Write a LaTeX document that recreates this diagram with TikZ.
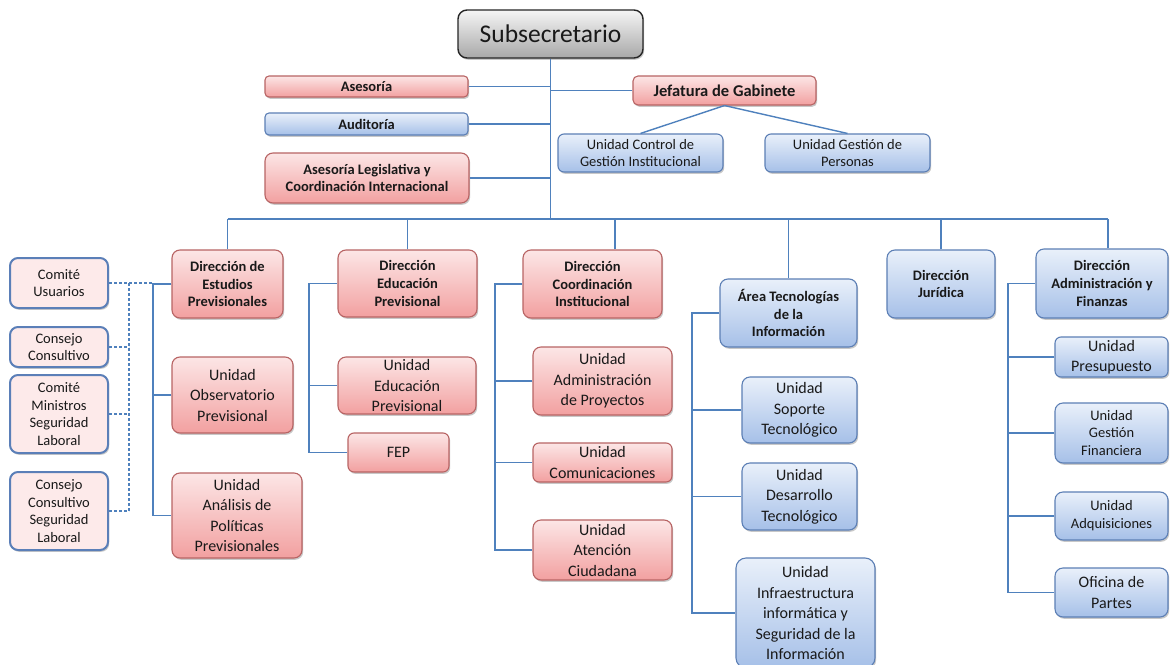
\documentclass[tikz,border=0pt]{standalone}
\usepackage{fontspec}
\setmainfont{Carlito}
\usetikzlibrary{shadows}
\definecolor{lnc}{HTML}{4F81BD}
\definecolor{redtop}{HTML}{FCE6E6}
\definecolor{redbot}{HTML}{F2A0A0}
\definecolor{redbd}{HTML}{B86464}
\definecolor{bluetop}{HTML}{E9F0FA}
\definecolor{bluebot}{HTML}{A6C0E8}
\definecolor{bluebd}{HTML}{5C7FB5}
\definecolor{comfill}{HTML}{FDEAEA}
\definecolor{combd}{HTML}{5B7FB8}
\definecolor{graytop}{HTML}{F5F5F5}
\definecolor{graybot}{HTML}{A8A8A8}
\tikzset{
  bx/.style={rounded corners=8pt, align=center, inner sep=0pt, line width=1.1pt, text=black!90,
    drop shadow={shadow xshift=1.2pt, shadow yshift=-1.8pt, opacity=0.3, fill=black!70}},
  redbox/.style={bx, draw=redbd, top color=redtop, bottom color=redbot},
  bluebox/.style={bx, draw=bluebd, top color=bluetop, bottom color=bluebot},
  combox/.style={bx, draw=combd, fill=comfill, line width=2pt},
  graybox/.style={bx, draw=black!85, top color=graytop, bottom color=graybot, line width=1.4pt, rounded corners=9pt},
  bold/.style={font=\bfseries\fontsize{14.5}{17.7}\selectfont},
  reg/.style={font=\fontsize{16}{20.5}\selectfont},
  small/.style={font=\fontsize{14.5}{17.8}\selectfont},
  conn/.style={draw=lnc, line width=1.4pt},
  dsh/.style={conn, dash pattern=on 3pt off 2pt},
  sz/.style 2 args={minimum width=#1pt, minimum height=#2pt}
}
\begin{document}
\begin{tikzpicture}[x=1pt,y=-1pt]
\useasboundingbox (0,0) rectangle (1170,664);
\fill[white] (0,0) rectangle (1170,664);

% top level
\node[graybox, sz={185}{48}, font=\fontsize{25.5}{29}\selectfont] (sub) at (550.5,34) {Subsecretario};
\node[redbox, bold, sz={203}{21}, rounded corners=4pt] (ases) at (366.5,86.5) {Asesoría};
\node[bluebox, bold, sz={203}{22}, rounded corners=4pt] (audit) at (366.5,124) {Auditoría};
\node[redbox, bold, sz={204}{50}] (aleg) at (367,178) {Asesoría Legislativa y\\Coordinación Internacional};
\node[redbox, sz={183}{29}, rounded corners=5pt, font=\bfseries\fontsize{16.5}{20}\selectfont] (jef) at (724.5,90.5) {Jefatura de Gabinete};
\node[bluebox, small, sz={165}{38}, rounded corners=6pt] (ucg) at (640.5,153) {Unidad Control de\\Gestión Institucional};
\node[bluebox, small, sz={165}{38}, rounded corners=6pt] (ugp) at (847.5,153) {Unidad Gestión de\\Personas};

% column 1
\node[redbox, bold, sz={111}{68}] (dep) at (227.5,284) {Dirección de\\Estudios\\Previsionales};
\node[redbox, reg, sz={121}{76}] (uop) at (232.5,395) {Unidad\\Observatorio\\Previsional};
\node[redbox, reg, sz={130}{85}] (uap) at (237,515.5) {Unidad\\Análisis de\\Políticas\\Previsionales};

% committees
\node[combox, small, sz={98}{50}] (cu) at (59,283) {Comité\\Usuarios};
\node[combox, small, sz={98}{40}] (cc) at (59,347) {Consejo\\Consultivo};
\node[combox, small, sz={98}{78}] (cmsl) at (59,414) {Comité\\Ministros\\Seguridad\\Laboral};
\node[combox, small, sz={98}{78}] (ccsl) at (59,511) {Consejo\\Consultivo\\Seguridad\\Laboral};

% column 2
\node[redbox, bold, sz={139}{67}] (dedu) at (407.5,283.5) {Dirección\\Educación\\Previsional};
\node[redbox, reg, sz={138}{57}] (uedu) at (407,385.5) {Unidad\\Educación\\Previsional};
\node[redbox, reg, sz={101}{39}, rounded corners=6pt] (fep) at (398.5,452.5) {FEP};

% column 3
\node[redbox, bold, sz={139}{68}] (dci) at (592.5,284) {Dirección\\Coordinación\\Institucional};
\node[redbox, reg, sz={139}{68}] (uadp) at (602.5,381) {Unidad\\Administración\\de Proyectos};
\node[redbox, reg, sz={139}{39}, rounded corners=6pt] (ucom) at (602.5,462.5) {Unidad\\Comunicaciones};
\node[redbox, reg, sz={139}{60}] (uaci) at (602.5,550) {Unidad\\Atención\\Ciudadana};

% column 4
\node[bluebox, bold, sz={137}{68}] (ati) at (788.5,313) {Área Tecnologías\\de la\\Información};
\node[bluebox, reg, sz={115}{66}] (ust) at (799.5,410) {Unidad\\Soporte\\Tecnológico};
\node[bluebox, reg, sz={115}{67}] (udt) at (799.5,496.5) {Unidad\\Desarrollo\\Tecnológico};
\node[bluebox, reg, sz={139}{110}, rounded corners=10pt] (uisi) at (805.5,613) {Unidad\\Infraestructura\\informática y\\Seguridad de la\\Información};

% column 5
\node[bluebox, bold, sz={108}{68}] (djur) at (941,284) {Dirección\\Jurídica};

% column 6
\node[bluebox, bold, sz={132}{69}] (dadm) at (1102,283.5) {Dirección\\Administración y\\Finanzas};
\node[bluebox, reg, sz={113}{40}, rounded corners=6pt] (upre) at (1111.5,357) {Unidad\\Presupuesto};
\node[bluebox, small, sz={113}{60}] (ugf) at (1111.5,433) {Unidad\\Gestión\\Financiera};
\node[bluebox, small, sz={113}{48}] (uadq) at (1111.5,516) {Unidad\\Adquisiciones};
\node[bluebox, reg, sz={113}{49}] (opar) at (1111.5,592.5) {Oficina de\\Partes};

% coordinates
\coordinate (busL) at (227.5,219);
\coordinate (busR) at (1108,219);
\coordinate (sp1) at (153,0);
\coordinate (spd) at (129,0);
\coordinate (sp2) at (309,0);
\coordinate (sp3) at (495,0);
\coordinate (sp4) at (692,0);
\coordinate (sp6) at (1008,0);

% connectors top
\draw[conn] (sub.south) -- (sub.south |- busL);
\draw[conn] (ases.east) -- (ases.east -| sub.south);
\draw[conn] (audit.east) -- (audit.east -| sub.south);
\draw[conn] (aleg.east) -- (aleg.east -| sub.south);
\draw[conn] (jef.west) -- (jef.west -| sub.south);
\draw[conn] (jef.south) -- (ucg.north);
\draw[conn] (jef.south) -- (ugp.north);
\draw[conn] (busL) -- (busR);
\draw[conn] (dep.north) -- (dep.north |- busL);
\draw[conn] (dedu.north) -- (dedu.north |- busL);
\draw[conn] ([xshift=22.5pt]dci.north) -- ([xshift=22.5pt]dci.north |- busL);
\draw[conn] (ati.north) -- (ati.north |- busL);
\draw[conn] (djur.north) -- (djur.north |- busL);
\draw[conn] (dadm.north -| busR) -- (busR);

% column 1
\draw[conn] (dep.west) -- (dep.west -| sp1) -- (uap.west -| sp1) -- (uap.west);
\draw[conn] (uop.west) -- (uop.west -| sp1);
\draw[dsh] (cu.east) -- (cu.east -| sp1);
\draw[dsh] (cu.east -| spd) -- (ccsl.east -| spd);
\draw[dsh] (cc.east) -- (cc.east -| spd);
\draw[dsh] (cmsl.east) -- (cmsl.east -| spd);
\draw[dsh] (ccsl.east) -- (ccsl.east -| spd);

% column 2
\draw[conn] (dedu.west) -- (dedu.west -| sp2) -- (fep.west -| sp2) -- (fep.west);
\draw[conn] (uedu.west) -- (uedu.west -| sp2);

% column 3
\draw[conn] (dci.west) -- (dci.west -| sp3) -- (uaci.west -| sp3) -- (uaci.west);
\draw[conn] (uadp.west) -- (uadp.west -| sp3);
\draw[conn] (ucom.west) -- (ucom.west -| sp3);

% column 4
\draw[conn] (ati.west) -- (ati.west -| sp4) -- (uisi.west -| sp4) -- (uisi.west);
\draw[conn] (ust.west) -- (ust.west -| sp4);
\draw[conn] (udt.west) -- (udt.west -| sp4);

% column 6
\draw[conn] (dadm.west) -- (dadm.west -| sp6) -- (opar.west -| sp6) -- (opar.west);
\draw[conn] (upre.west) -- (upre.west -| sp6);
\draw[conn] (ugf.west) -- (ugf.west -| sp6);
\draw[conn] (uadq.west) -- (uadq.west -| sp6);
\end{tikzpicture}
\end{document}
